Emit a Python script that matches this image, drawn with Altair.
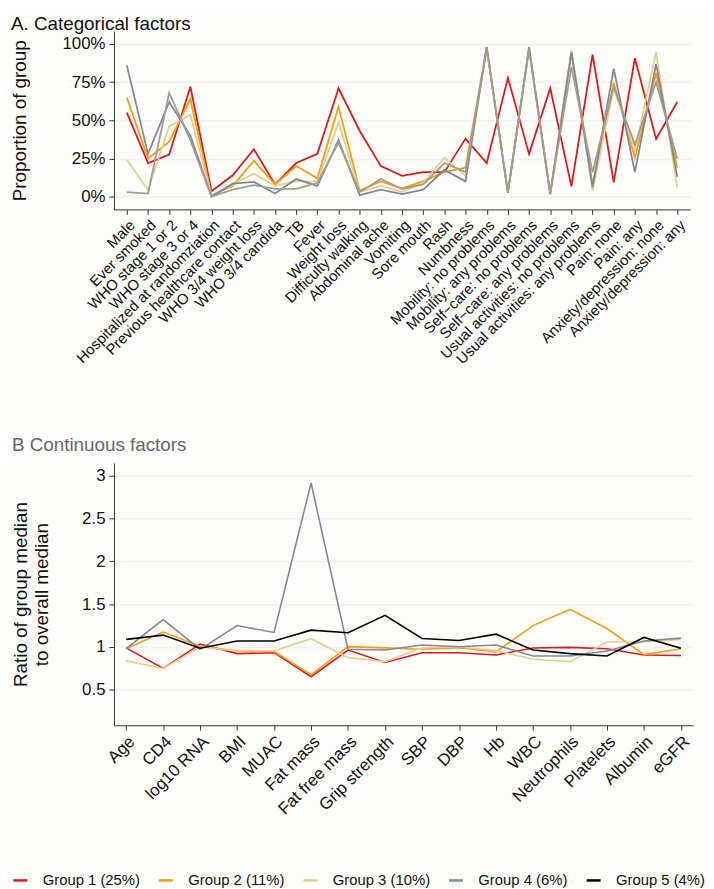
import altair as alt
import pandas as pd

groups = ["Group 1 (25%)", "Group 2 (11%)", "Group 3 (10%)", "Group 4 (6%)", "Group 5 (4%)"]

cat_labels = ["Male", "Ever smoked", "WHO stage 1 or 2", "WHO stage 3 or 4",
              "Hospitalized at randomziation", "Previous healthcare contact",
              "WHO 3/4 weight loss", "WHO 3/4 candida", "TB", "Fever", "Weight loss",
              "Difficulty walking", "Abdominal ache", "Vomiting", "Sore mouth", "Rash",
              "Numbness", "Mobility: no problems", "Mobility: any problems",
              "Self\u2212care: no problems", "Self\u2212care: any problems",
              "Usual activities: no problems", "Usual activities: any problems",
              "Pain: none", "Pain: any", "Anxiety/depression: none", "Anxiety/depression: any"]

cat_g1 = [55, 22, 27.6, 72, 3.5, 14, 31, 8, 22, 28, 71, 43, 20, 13.6, 16, 16, 38, 22, 77.8, 28, 71, 6.7, 93, 9.3, 90.7, 37.8, 62]
cat_g2 = [65, 25, 36, 64, 1, 7, 23.5, 8, 20, 12, 59, 4, 10, 5.4, 10, 16, 19, 98, 2.5, 97, 2, 95, 8, 74.5, 25.5, 81, 19]
cat_g3 = [24, 4.5, 46, 53.5, 0.5, 8, 15, 7, 10, 10, 48.6, 3, 7, 3, 9, 25.5, 13.6, 97, 3, 96, 1, 95.7, 4, 71, 30, 94.6, 6]
cat_g4 = [86, 28, 62, 40, 0, 8.5, 9.7, 2, 11.5, 7, 37, 1, 4.5, 1.7, 4.5, 17.5, 10, 98, 2.4, 98, 1.7, 94.6, 6, 83.8, 16, 87, 13]
cat_g5 = [3, 2, 68, 37, 0, 4.5, 7.5, 5, 5, 9, 35.6, 3, 11.5, 5, 8, 22, 16, 97, 3, 97, 2, 85, 16, 72, 34, 75, 25]

cont_labels = ["Age", "CD4", "log10 RNA", "BMI", "MUAC", "Fat mass", "Fat free mass",
               "Grip strength", "SBP", "DBP", "Hb", "WBC", "Neutrophils", "Platelets",
               "Albumin", "eGFR"]
cont_g1 = [0.99, 0.75, 1.035, 0.923, 0.934, 0.653, 0.965, 0.82, 0.934, 0.934, 0.907, 0.988, 0.996, 0.98, 0.907, 0.90]
cont_g2 = [0.98, 1.174, 1.01, 0.954, 0.946, 0.676, 1.004, 0.99, 0.973, 0.992, 0.942, 1.25, 1.44, 1.216, 0.911, 0.98]
cont_g3 = [0.838, 0.75, 1.0, 0.954, 0.954, 1.097, 0.876, 0.83, 0.992, 1.0, 0.958, 0.857, 0.83, 1.058, 1.058, 1.089]
cont_g4 = [0.98, 1.32, 0.973, 1.25, 1.17, 2.914, 0.973, 0.965, 1.023, 1.004, 1.023, 0.896, 0.896, 0.954, 1.07, 1.104]
cont_g5 = [1.089, 1.139, 0.985, 1.07, 1.07, 1.197, 1.166, 1.37, 1.10, 1.077, 1.15, 0.965, 0.923, 0.896, 1.112, 0.985]

top_colors = ["#e8141c", "#f59c0c", "#e8cd8e", "#7d8a99", "#a39b8d"]
bottom_colors = ["#e8141c", "#f59c0c", "#e8cd8e", "#7d8a99", "#000000"]

FONT = "Liberation Sans"

rows = []
for g, vals in zip(groups, [cat_g1, cat_g2, cat_g3, cat_g4, cat_g5]):
    for lab, v in zip(cat_labels, vals):
        rows.append({"group": g, "factor": lab, "value": v / 100.0})
df_cat = pd.DataFrame(rows)

rows = []
for g, vals in zip(groups, [cont_g1, cont_g2, cont_g3, cont_g4, cont_g5]):
    for lab, v in zip(cont_labels, vals):
        rows.append({"group": g, "factor": lab, "value": v})
df_cont = pd.DataFrame(rows)

GRID = "#eef1f5"
AXC = "#333333"

top = alt.Chart(df_cat).mark_line(strokeWidth=1.8).encode(
    x=alt.X("factor:N", sort=cat_labels,
            scale=alt.Scale(type="point", padding=0.61),
            axis=alt.Axis(title=None, labelAngle=-45, labelFontSize=15, labelFont=FONT,
                          labelColor="#111", tickColor=AXC, domainColor=AXC, tickSize=5,
                          labelPadding=3, grid=False, labelLimit=400)),
    y=alt.Y("value:Q",
            scale=alt.Scale(domain=[-0.084, 1.084], nice=False, zero=False),
            axis=alt.Axis(values=[0, 0.25, 0.5, 0.75, 1.0], format=".0%",
                          title="Proportion of group", titleFontSize=19, titleFont=FONT,
                          titleFontWeight="normal", titleColor="#111",
                          labelFontSize=17, labelFont=FONT, labelColor="#111",
                          tickColor=AXC, domainColor=AXC, tickSize=5, labelPadding=4,
                          gridColor=GRID, gridWidth=1.5,
                          minExtent=60, maxExtent=60, titlePadding=25)),
    color=alt.Color("group:N", scale=alt.Scale(domain=groups, range=top_colors), legend=None),
).properties(
    width=582, height=180,
    title=alt.TitleParams("A. Categorical factors", anchor="start", frame="bounds",
                          fontSize=19, font=FONT, fontWeight="normal", color="#111",
                          offset=-3),
)

bottom = alt.Chart(df_cont).mark_line(strokeWidth=1.6).encode(
    x=alt.X("factor:N", sort=cont_labels,
            scale=alt.Scale(type="point", padding=0.33),
            axis=alt.Axis(title=None, labelAngle=-45, labelFontSize=17, labelFont=FONT,
                          labelColor="#111", tickColor=AXC, domainColor=AXC, tickSize=5,
                          labelPadding=3, grid=False, labelLimit=400)),
    y=alt.Y("value:Q",
            scale=alt.Scale(domain=[0.087, 3.149], nice=False, zero=False),
            axis=alt.Axis(values=[0.5, 1, 1.5, 2, 2.5, 3], format="~g",
                          title=["Ratio of group median", "to overall median"],
                          titleFontSize=19, titleFont=FONT, titleFontWeight="normal",
                          titleColor="#111", titleLineHeight=21,
                          labelFontSize=17, labelFont=FONT, labelColor="#111",
                          tickColor=AXC, domainColor=AXC, tickSize=5, labelPadding=4,
                          gridColor=GRID, gridWidth=1.5,
                          minExtent=60, maxExtent=60, titlePadding=3)),
    color=alt.Color("group:N", scale=alt.Scale(domain=groups, range=bottom_colors),
                    legend=alt.Legend(title=None, orient="none", legendX=-103, legendY=413,
                                      direction="horizontal", columns=5,
                                      symbolType="stroke", symbolSize=200,
                                      symbolStrokeWidth=2.5, labelFontSize=15,
                                      labelFont=FONT, labelColor="#111", labelOffset=14,
                                      columnPadding=13, labelLimit=300)),
).properties(
    width=585, height=265,
    title=alt.TitleParams("B Continuous factors", anchor="start", frame="bounds",
                          fontSize=19, font=FONT, fontWeight="normal", color="#636873",
                          offset=8),
)

chart = alt.vconcat(top, bottom, spacing=70).resolve_scale(color="independent").properties(
    padding={"top": 3, "left": 3, "right": 0, "bottom": 0}, background="#fdfdf9"
).configure_view(stroke=None)

chart.save("out.html", embed_options={"renderer": "svg", "actions": False})
